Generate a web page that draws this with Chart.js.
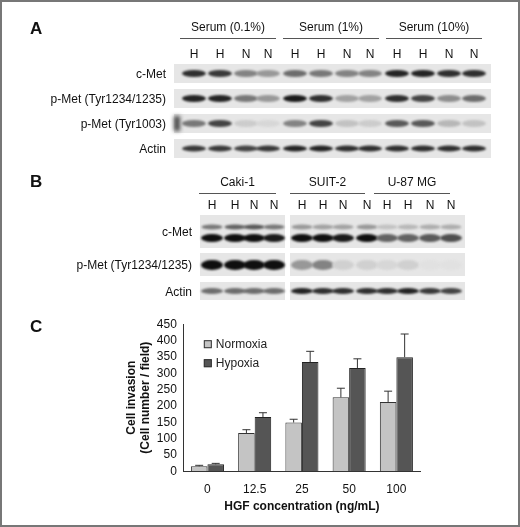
<!DOCTYPE html>
<html>
<head>
<meta charset="utf-8">
<script src="https://cdn.jsdelivr.net/npm/chart.js@4.4.0/dist/chart.umd.min.js"></script>
<style>
  body { margin: 0; background: #fff; }
  #wrap { position: relative; width: 520px; height: 527px; box-sizing: border-box; border: 2px solid #777; overflow: hidden; font-family: "Liberation Sans", Arial, sans-serif; }
  #blots { position: absolute; left: 0; top: 0; }
  #chartBox { position: absolute; left: 100px; top: 313px; width: 340px; height: 199px; }
  .t { position: absolute; color: #111; white-space: nowrap; }
</style>
</head>
<body>
<div id="wrap">
  <canvas id="blots" width="516" height="523"></canvas>
  <div id="chartBox"><canvas id="myChart"></canvas></div>
</div>
<script>
// bar chart data (panel C)
const categories = ['0', '12.5', '25', '50', '100'];
const normoxia = [15, 117, 149, 226, 212];
const normoxiaTop = [18, 127, 159, 254, 245];
const hypoxia = [21, 166, 334, 316, 349];
const hypoxiaTop = [24, 179, 367, 344, 420];

// blot band intensities (0..1), lanes H H N N x 3
const groupsA = ['Serum (0.1%)', 'Serum (1%)', 'Serum (10%)'];
const rowsA = ['c-Met', 'p-Met (Tyr1234/1235)', 'p-Met (Tyr1003)', 'Actin'];
const cMetA = [0.85, 0.8, 0.45, 0.35, 0.55, 0.5, 0.45, 0.45, 0.9, 0.9, 0.85, 0.85];
const pMet1234A = [0.9, 0.9, 0.5, 0.35, 0.95, 0.85, 0.3, 0.3, 0.85, 0.75, 0.4, 0.55];
const pMet1003A = [0.5, 0.75, 0.1, 0.05, 0.45, 0.75, 0.15, 0.1, 0.65, 0.65, 0.2, 0.15];
const actinA = [0.8, 0.8, 0.75, 0.8, 0.9, 0.9, 0.85, 0.85, 0.85, 0.85, 0.85, 0.85];

const groupsB = ['Caki-1', 'SUIT-2', 'U-87 MG'];
const rowsB = ['c-Met', 'p-Met (Tyr1234/1235)', 'Actin'];
const cMetUpperB = [0.5, 0.6, 0.65, 0.5, 0.35, 0.3, 0.3, 0.35, 0.15, 0.2, 0.25, 0.25];
const cMetLowerB = [1, 1, 1, 0.95, 1, 1, 0.95, 1, 0.6, 0.6, 0.65, 0.7];
const pMetB = [1, 1, 1, 1, 0.35, 0.45, 0.08, 0.08, 0.05, 0.08, 0, 0];
const actinB = [0.55, 0.55, 0.55, 0.55, 0.9, 0.85, 0.85, 0.85, 0.85, 0.9, 0.8, 0.75];
const lanes = ['H', 'H', 'N', 'N'];

const wrap = document.getElementById('wrap');
function text(str, x, y, size, align, bold) {
    const d = document.createElement('div');
    d.className = 't';
    d.textContent = str;
    d.style.fontSize = size + 'px';
    d.style.top = (y - size * 0.6) + 'px';
    if (bold) d.style.fontWeight = 'bold';
    if (align === 'right') { d.style.right = (516 - x) + 'px'; }
    else if (align === 'center') { d.style.left = x + 'px'; d.style.transform = 'translateX(-50%)'; }
    else d.style.left = x + 'px';
    wrap.appendChild(d);
}

const bc = document.getElementById('blots').getContext('2d');
function strip(x0, y0, x1, y1) {
    bc.fillStyle = '#e6e6e6';
    bc.fillRect(x0, y0, x1 - x0, y1 - y0);
}
function bands(xs, yc, h, w, vals) {
    bc.save();
    bc.filter = 'blur(1.3px)';
    xs.forEach((x, i) => {
        const v = vals[i];
        const g = Math.round(225 - v * 210);
        bc.fillStyle = `rgb(${g},${g},${g})`;
        bc.beginPath();
        bc.ellipse(x, yc, w / 2, h / 2, 0, 0, Math.PI * 2);
        bc.fill();
    });
    bc.restore();
}

// panel A
text('A', 28, 27, 17, 'left', true);
const lanesA = [192, 218, 244, 266, 293, 319, 345, 368, 395, 421, 447, 472];
const lineA = [[178, 274], [281, 377], [384, 480]];
groupsA.forEach((g, i) => {
    text(g, (lineA[i][0] + lineA[i][1]) / 2, 25, 12, 'center');
    bc.fillStyle = '#555';
    bc.fillRect(lineA[i][0], 36, lineA[i][1] - lineA[i][0], 1);
});
lanesA.forEach((x, i) => text(lanes[i % 4], x, 52, 12, 'center'));
const stripA = [[62, 81], [87, 106], [112, 131], [137, 156]];
const valsA = [cMetA, pMet1234A, pMet1003A, actinA];
stripA.forEach((s, r) => {
    strip(172, s[0], 489, s[1]);
    bands(lanesA, (s[0] + s[1]) / 2, r === 3 ? 6 : 7, 24, valsA[r]);
    text(rowsA[r], 164, (s[0] + s[1]) / 2 + 1, 12, 'right');
});
bc.save(); bc.filter = 'blur(2px)'; bc.fillStyle = '#444'; bc.fillRect(172, 114, 6, 15); bc.restore();

// panel B
text('B', 28, 180, 17, 'left', true);
const lanesB = [210, 233, 252, 272, 300, 321, 341, 365, 385, 406, 428, 449];
const lineB = [[197, 274], [288, 363], [372, 448]];
groupsB.forEach((g, i) => {
    text(g, (lineB[i][0] + lineB[i][1]) / 2, 180, 12, 'center');
    bc.fillStyle = '#555';
    bc.fillRect(lineB[i][0], 191, lineB[i][1] - lineB[i][0], 1);
});
lanesB.forEach((x, i) => text(lanes[i % 4], x, 203, 12, 'center'));
const stripB = [[213, 246], [251, 274], [280, 298]];
stripB.forEach((s, r) => {
    strip(198, s[0], 283, s[1]);
    strip(288, s[0], 463, s[1]);
    text(rowsB[r], 190, (s[0] + s[1]) / 2 + 1, 12, 'right');
});
bands(lanesB, 225, 5, 21, cMetUpperB);
bands(lanesB, 236, 8, 22, cMetLowerB);
bands(lanesB, 263, 10, 22, pMetB);
bands(lanesB, 289, 6, 22, actinB);

// panel C
text('C', 28, 325, 17, 'left', true);

const errorBars = {
    id: 'errorBars',
    afterDatasetsDraw(chart) {
        const c = chart.ctx;
        const tops = [normoxiaTop, hypoxiaTop];
        const y = chart.scales.y;
        c.save();
        c.strokeStyle = '#333';
        c.lineWidth = 1;
        chart.data.datasets.forEach((ds, di) => {
            chart.getDatasetMeta(di).data.forEach((bar, i) => {
                const yt = y.getPixelForValue(tops[di][i]);
                c.beginPath();
                c.moveTo(bar.x, bar.y);
                c.lineTo(bar.x, yt);
                c.moveTo(bar.x - 4, yt);
                c.lineTo(bar.x + 4, yt);
                c.stroke();
            });
        });
        // legend inside plot
        const a = chart.chartArea;
        c.font = '12px "Liberation Sans", Arial, sans-serif';
        c.textBaseline = 'middle';
        chart.data.datasets.forEach((ds, di) => {
            const ly = a.top + 20 + di * 19;
            c.fillStyle = ds.backgroundColor;
            c.strokeStyle = '#333';
            c.fillRect(a.left + 20, ly - 4, 8, 8);
            c.strokeRect(a.left + 20.5, ly - 3.5, 7, 7);
            c.fillStyle = '#222';
            c.fillText(ds.label, a.left + 32, ly);
        });
        c.restore();
    }
};

Chart.defaults.font.family = '"Liberation Sans", Arial, sans-serif';
Chart.defaults.color = '#111';
new Chart(document.getElementById('myChart'), {
    type: 'bar',
    data: {
        labels: categories,
        datasets: [{
            label: 'Normoxia',
            data: normoxia,
            backgroundColor: '#c4c4c4',
            borderColor: '#333',
            borderWidth: 1
        }, {
            label: 'Hypoxia',
            data: hypoxia,
            backgroundColor: '#555555',
            borderColor: '#222',
            borderWidth: 1
        }]
    },
    options: {
        responsive: true,
        maintainAspectRatio: false,
        animation: false,
        layout: { padding: { left: 20, right: 22, top: 4 } },
        categoryPercentage: 0.7,
        barPercentage: 1,
        plugins: { legend: { display: false }, tooltip: { enabled: false } },
        scales: {
            x: {
                grid: { display: false, drawTicks: true },
                border: { color: '#333' },
                ticks: { font: { size: 12 } },
                title: { display: true, text: 'HGF concentration (ng/mL)', font: { size: 12, weight: 'bold' }, padding: 0 }
            },
            y: {
                min: 0, max: 450,
                ticks: { stepSize: 50, autoSkip: false, font: { size: 12 }, padding: 2 },
                grid: { display: false, drawTicks: true, tickLength: 5 },
                border: { color: '#333' },
                title: { display: true, text: ['Cell invasion', '(Cell number / field)'], font: { size: 12, weight: 'bold' }, padding: 2 }
            }
        }
    },
    plugins: [errorBars]
});
</script>
</body>
</html>
